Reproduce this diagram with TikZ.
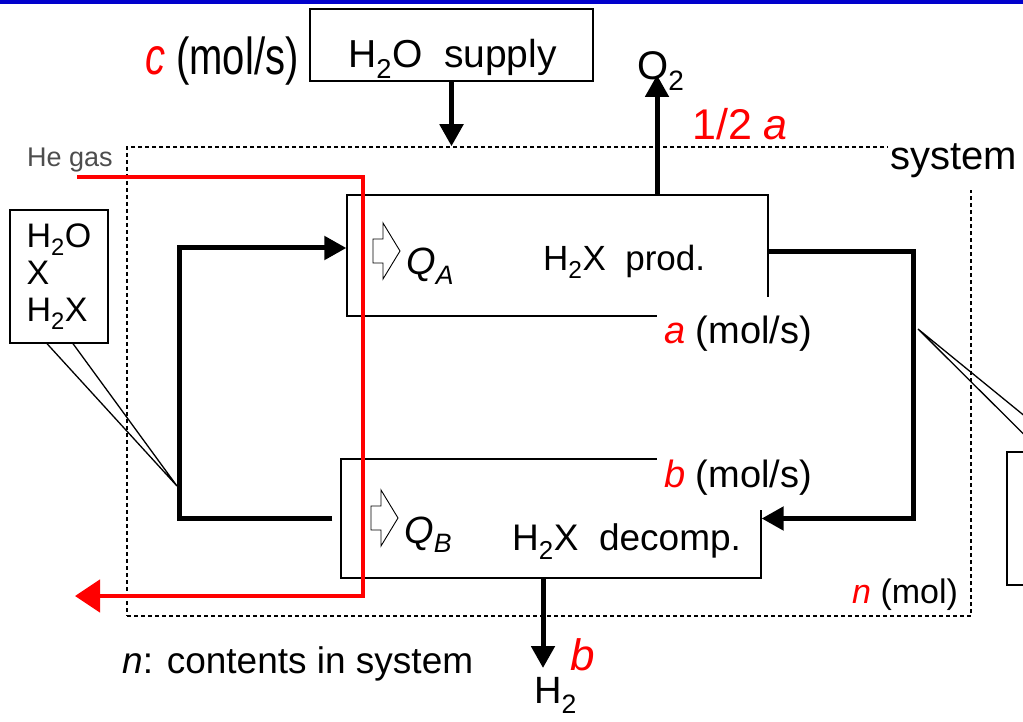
\documentclass[tikz,border=0pt]{standalone}
\usepackage{fontspec}
\setmainfont{Liberation Sans}
\usepackage{graphicx}
\definecolor{slideblue}{RGB}{0,0,204}
\definecolor{hegray}{RGB}{77,77,77}
\usetikzlibrary{arrows.meta,positioning}
\newcommand{\flowvar}[1]{\textcolor{red}{\textit{#1}}}

\begin{document}
\begin{tikzpicture}[x=1pt,y=-1pt,
  unitbox/.style={draw,line width=1.3pt,minimum width=421pt,minimum height=121pt,inner sep=0pt},
  notebox/.style={draw,line width=1.3pt,fill=white,minimum width=98pt,minimum height=133pt,
    align=left,inner sep=0pt,font=\fontsize{34}{37}\selectfont},
  sysline/.style={draw,dash pattern=on 4pt off 3pt,line width=1.5pt,minimum width=844pt,
    minimum height=469pt,inner sep=0pt},
  flow/.style={line width=5pt,-{Triangle[length=22pt,width=23pt]}},
  heflow/.style={red,line width=4.5pt,-{Triangle[length=25pt,width=32pt]}},
  lbl/.style={anchor=base west,inner sep=0pt,font=\fontsize{37}{44}\selectfont},
  ratelbl/.style={lbl,fill=white,inner xsep=7pt,inner ysep=18pt,font=\fontsize{38}{44}\selectfont},
  pointer/.style={line width=1.3pt},
  heat/.pic={\draw[line width=0.9pt,fill=white] (0,-12) -- (10,-12) -- (10,-28) -- (27,0)
    -- (10,28) -- (10,12) -- (0,12) -- cycle;}
]
  \useasboundingbox (0,0) rectangle (1023,722);
  \clip (0,0) rectangle (1023,722);
  \fill[slideblue] (0,0) rectangle (1023,4);

  % system border
  \node[sysline] (sys) at (549,381.5) {};

  % supply
  \node[draw,line width=1.3pt,minimum width=283pt,minimum height=72pt,inner sep=0pt] (supply) at (451.5,45) {};
  \node[lbl,font=\fontsize{39}{44}\selectfont] (supplytxt) at (348,68) {H\textsubscript{2}O~ supply};
  \node[lbl,font=\fontsize{40}{44}\selectfont] (crate) at (145,75) {\scalebox{1}[1.3]{\flowvar{c} (mol/s)}};
  \node[lbl,font=\fontsize{27}{30}\selectfont,text=hegray] (hegas) at (27,167) {He gas};

  % reactors
  \node[unitbox] (prod) at (557.5,255.5) {};
  \node[unitbox,minimum width=420pt,minimum height=119pt] (decomp) at (551,518.5) {};
  \node[lbl,font=\fontsize{35}{44}\selectfont] (prodtxt) at (543,270) {H\textsubscript{2}X~ prod.};
  \node[lbl] (decomptxt) at (512,550) {H\textsubscript{2}X~ decomp.};
  \pic at (373,251) {heat};
  \pic at (371,518) {heat};
  \node[lbl,font=\fontsize{38}{44}\selectfont] (qa) at (406,275) {\textit{Q}\textsubscript{\textit{A}}};
  \node[lbl,font=\fontsize{38}{44}\selectfont] (qb) at (404,543) {\textit{Q}\textsubscript{\textit{B}}};

  % rates
  \node[ratelbl] (arate) at (657,343) {\flowvar{a} (mol/s)};
  \node[ratelbl,inner ysep=15pt] (brate) at (657,487) {\flowvar{b} (mol/s)};
  \node[lbl,fill=white,inner xsep=2pt,inner ysep=12pt,font=\fontsize{40}{44}\selectfont] (system) at (888,170) {system};
  \node[lbl,font=\fontsize{43}{48}\selectfont,text=red] (halfa) at (692,140) {1/2 \textit{a}};
  \node[lbl,font=\fontsize{40}{44}\selectfont] (o2) at (637,80) {O\textsubscript{2}};
  \node[lbl,font=\fontsize{38}{44}\selectfont] (h2) at (534,703) {H\textsubscript{2}};
  \node[lbl,font=\fontsize{44}{48}\selectfont] (bout) at (570,670) {\flowvar{b}};
  \node[lbl,font=\fontsize{34}{40}\selectfont] (nmol) at (852,603) {\flowvar{n} (mol)};
  \node[lbl] (contents) at (122,673) {\textit{n}: contents in system};

  % flows
  \coordinate (o2tip) at (657,75);
  \coordinate (h2tip) at (543,668);
  \draw[flow] (supply.south) -- (supply.south |- sys.north);
  \draw[flow] (prod.north -| o2tip) -- (o2tip);
  \draw[flow] (decomp.south -| h2tip) -- (h2tip);
  \draw[flow] ([yshift=3.5pt]prod.east) -- ++(145,0) |- (decomp.east);
  \draw[flow] ([xshift=-8pt]decomp.west) -- ++(-153,0) |- ([yshift=7.5pt]prod.west);

  % He gas
  \coordinate (hein) at (77,177);
  \draw[heflow] (hein) -- ++(286,0) -- ++(0,419) -- ++(-288,0);

  % callouts
  \node[notebox] (lnote) at (59,276.5) {H\textsubscript{2}O\\X\\H\textsubscript{2}X};
  \coordinate (ltip) at (177,486);
  \draw[pointer] ([xshift=-12pt]lnote.south) -- (ltip) -- ([xshift=14pt]lnote.south);
  \node[notebox] (rnote) at (1056,518.5) {};
  \coordinate (rtip) at (918,329);
  \draw[pointer] ([xshift=-15pt]rnote.north) -- (rtip) -- ([xshift=12pt]rnote.north);
\end{tikzpicture}
\end{document}
